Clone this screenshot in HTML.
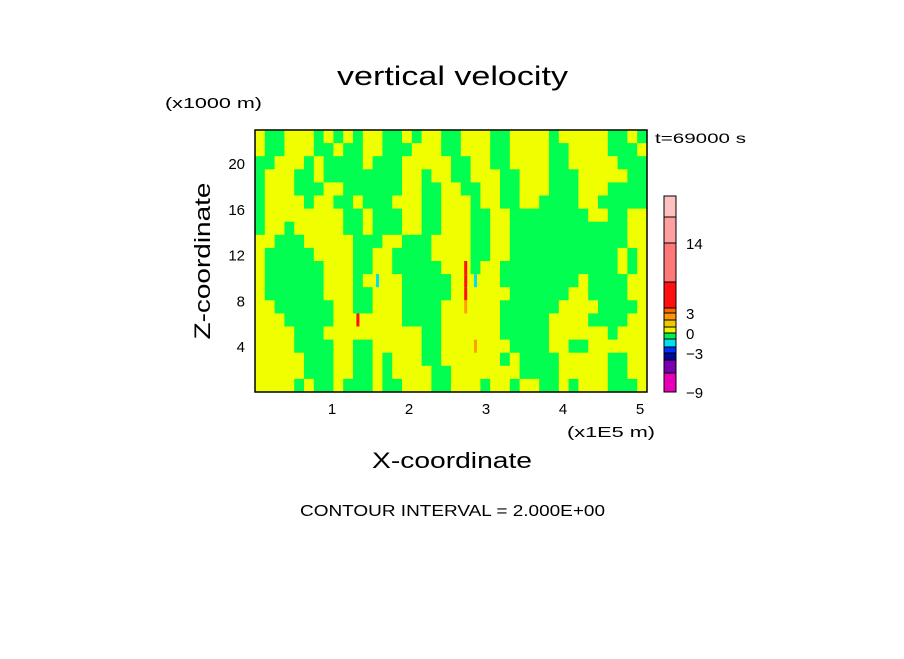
<!DOCTYPE html>
<html><head><meta charset="utf-8"><style>
body{margin:0;background:#fff;}
svg text{font-family:"Liberation Sans",sans-serif;fill:#000;}
</style></head><body>
<svg width="904" height="654" viewBox="0 0 904 654" xmlns="http://www.w3.org/2000/svg">
<g id="field"></g>
<rect x="255" y="130" width="392" height="262" fill="none" stroke="#000" stroke-width="1.5"/>
<g id="bar"></g>
<g id="ticks"></g>
<text x="337" y="85" font-size="27" textLength="231" lengthAdjust="spacingAndGlyphs">vertical velocity</text>
<text x="165" y="108" font-size="15" textLength="97" lengthAdjust="spacingAndGlyphs">(x1000 m)</text>
<text x="655" y="143" font-size="14" textLength="91" lengthAdjust="spacingAndGlyphs">t=69000 s</text>
<text x="567" y="437" font-size="15" textLength="88" lengthAdjust="spacingAndGlyphs">(x1E5 m)</text>
<text x="372" y="468" font-size="22" textLength="160" lengthAdjust="spacingAndGlyphs">X-coordinate</text>
<text x="0" y="0" font-size="22" text-anchor="middle" textLength="157" lengthAdjust="spacingAndGlyphs" transform="translate(210,261) rotate(-90)">Z-coordinate</text>
<text x="300" y="516" font-size="16" textLength="305" lengthAdjust="spacingAndGlyphs">CONTOUR INTERVAL = 2.000E+00</text>
</svg>
<script>
const xTicks=[1,2,3,4,5];
const zTicks=[4,8,12,16,20];
const barLevels=[-9,-5,-4,-3,-2,-1,0,1,2,3,4,8,14,18,20];
const barColors=["#e800b8","#7800b0","#000898","#0030ff","#00e0f0","#00f050","#f0f000","#f0c800","#ff9800","#ff6800","#ff1010","#ff7878","#ffa0a0","#ffc0c0"];
const barLabels=[-9,-3,0,3,14];
const fieldRows=[
"yggyyygygygyyggygyyggyyyggyyyygyyyyyggyg",
"yggyyyggyggyygggyyyggyyyggyyyyggyyyygggy",
"ggyyygyggggygggyyyyyggyyggyyyyggyyyyyggg",
"gyyyggyggggggggyygyyggyyyggyyygggyyyyygg",
"gyyygggyyggggggyyggyyggyyggyyygggyyygggg",
"gyyyygyyggygggyyyggyyygyyggyyggggyyggggg",
"gyyyyyyyyggygggyyggyyyggyyggggggggyyggyy",
"gyygyyyyyggygggyyggyyyggyyggggggggggggyy",
"yygggyyyyygggyygggyyyyggyyggggggggggggyy",
"ygggggyyyyggyyggggyyyyggyygggggggggggygy",
"yggggggyyyggyygggggyyrgyyggggggggggggygy",
"yggggggyyygycyygggggyrcyyggggggggyggggyy",
"yggggggyyyggyyygggggyryyyyggggggyyggggyy",
"yyggggggyyggyyyggggyyoyyyggggggyyyyggggy",
"yyygggggyyryyyyggggyyyyyygggggyyyyggggyy",
"yyyygggyyyyyyyyyyggyyyyyygggggyyyyyygyyy",
"yyyyggggyyggyyyyyggyyyoyyyggggyyggyyyyyy",
"yyyyygggyyggygyyyggyyyyyygyggggyyyyyggyy",
"yyyyygggyyggygyyyyggyyyyyyyggggyyyyyggyy",
"yyyygyggygggyggyyyggyyygyygyyggygyyygggyy"];
const cmap={y:"#f0ff00",g:"#00ff50",r:"#ff1010",o:"#ffa000",c:"#00e0f0"};
const NS="http://www.w3.org/2000/svg";
const X0=255,X1=647,Y0=392,Y1=130,XMAX=5.09,ZMAX=22.9;
function sx(v){return X0+v/XMAX*(X1-X0);}
function sz(v){return Y0-v/ZMAX*(Y0-Y1);}
const f=document.getElementById('field');
const nr=fieldRows.length,nc=40;
fieldRows.forEach((row,i)=>{
 for(let j=0;j<nc;j++){
  const ch=row[j];
  const xa=sx(j*XMAX/nc),xb=sx((j+1)*XMAX/nc);
  const za=sz(ZMAX-i*ZMAX/nr),zb=sz(ZMAX-(i+1)*ZMAX/nr);
  const r=document.createElementNS(NS,'rect');
  r.setAttribute('x',xa);r.setAttribute('y',za);
  r.setAttribute('width',xb-xa+0.5);r.setAttribute('height',zb-za+0.5);
  r.setAttribute('fill',(ch==='y'||ch==='g')?cmap[ch]:cmap.y);
  
  
  f.appendChild(r);
  if(ch!=='y'&&ch!=='g'){
   const s=document.createElementNS(NS,'rect');
   s.setAttribute('x',(xa+xb)/2-1.5);s.setAttribute('y',za);
   s.setAttribute('width',3);s.setAttribute('height',zb-za+0.5);
   s.setAttribute('fill',cmap[ch]);
   
   
   f.appendChild(s);
  }
 }
});
const t=document.getElementById('ticks');
xTicks.forEach(v=>{
 const e=document.createElementNS(NS,'text');
 e.setAttribute('x',sx(v));e.setAttribute('y',414);e.setAttribute('font-size','15');e.setAttribute('text-anchor','middle');
 e.textContent=v;
 
 
 t.appendChild(e);
});
zTicks.forEach(v=>{
 const e=document.createElementNS(NS,'text');
 e.setAttribute('x',245);e.setAttribute('y',sz(v)+6);e.setAttribute('font-size','15');e.setAttribute('text-anchor','end');
 e.textContent=v;
 
 
 t.appendChild(e);
});
const B1=196;
const bPos=[392,373,360,353,347,339,333,327,320,313,308,282,243,217,196];
const b=document.getElementById('bar');
function by(v){for(let k=0;k<barLevels.length-1;k++){if(v<=barLevels[k+1]){return bPos[k]+(v-barLevels[k])/(barLevels[k+1]-barLevels[k])*(bPos[k+1]-bPos[k]);}}return B1;}
barColors.forEach((c,k)=>{
 const r=document.createElementNS(NS,'rect');
 const ya=by(barLevels[k+1]),yb=by(barLevels[k]);
 r.setAttribute('x',664);r.setAttribute('y',ya);r.setAttribute('width',12);r.setAttribute('height',yb-ya);
 r.setAttribute('fill',c);r.setAttribute('stroke','#000');r.setAttribute('stroke-width','1');
 
 
 b.appendChild(r);
});
barLabels.forEach(v=>{
 const e=document.createElementNS(NS,'text');
 e.setAttribute('x',686);e.setAttribute('y',by(v)+6);e.setAttribute('font-size','15');
 e.textContent=v<0?'\u2212'+(-v):v;
 
 
 b.appendChild(e);
});
</script>
</body></html>
